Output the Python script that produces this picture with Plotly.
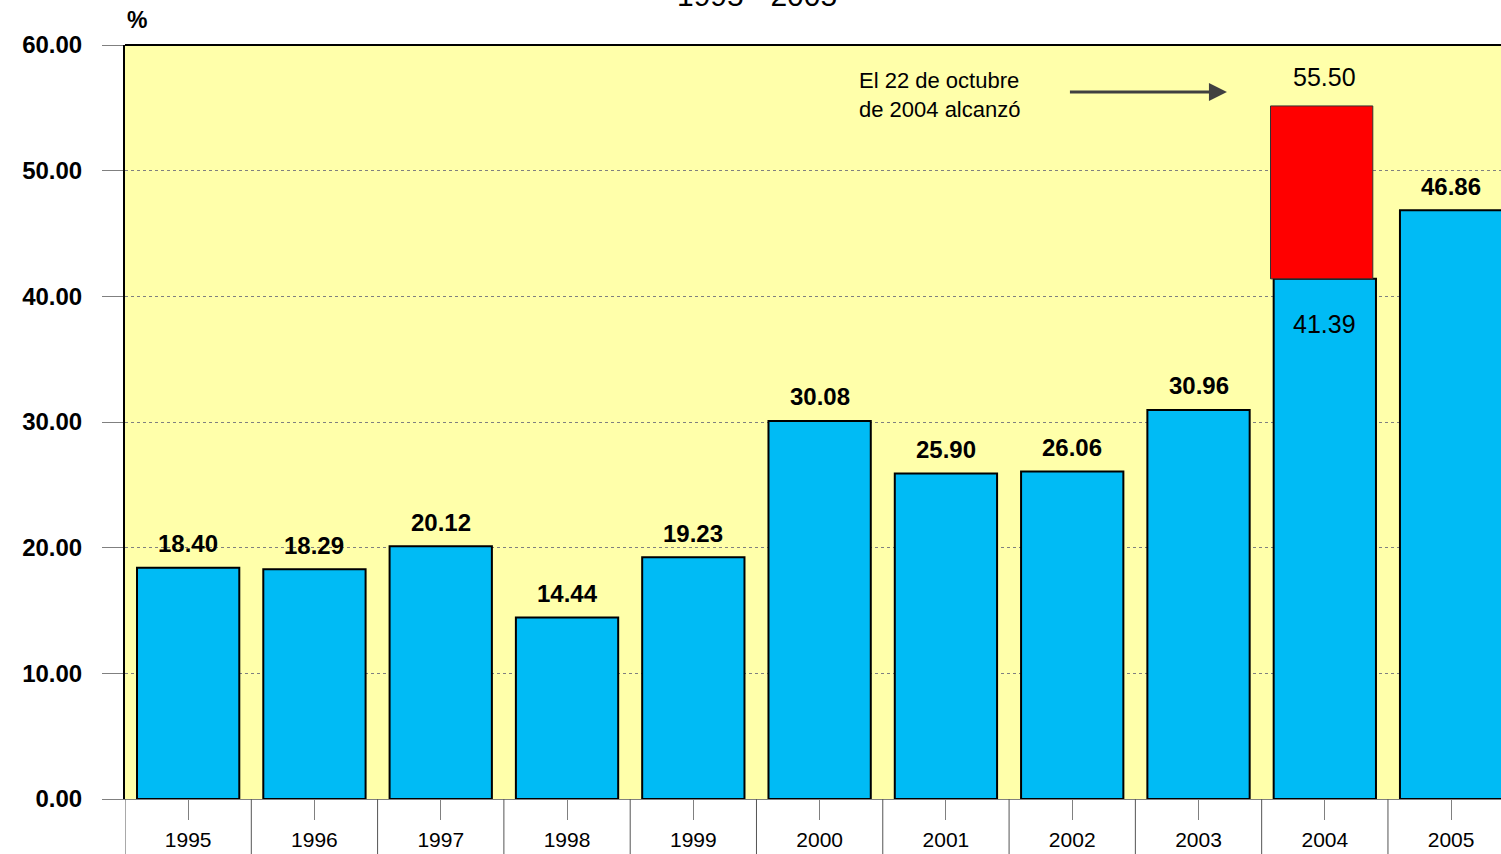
import plotly.graph_objects as go

years = ['1995', '1996', '1997', '1998', '1999', '2000', '2001', '2002', '2003', '2004', '2005']
values = [18.40, 18.29, 20.12, 14.44, 19.23, 30.08, 25.90, 26.06, 30.96, 41.39, 46.86]
peak_year = '2004'
peak_top = 55.15          # drawn top of the red segment
peak_label = '55.50'
y_ticks = [0, 10, 20, 30, 40, 50, 60]
note_text = 'El 22 de octubre<br>de 2004 alcanzó'
title_text = '1995 - 2005'

FONT = 'Liberation Sans, Arial, sans-serif'
BLUE = '#00BBF5'
YELLOW = '#FFFFAA'

fig = go.Figure()
fig.add_trace(go.Bar(
    x=years, y=values, width=0.81,
    marker=dict(color=BLUE, line=dict(color='black', width=2)),
    hoverinfo='x+y', showlegend=False,
))
pi = years.index(peak_year)
fig.add_trace(go.Bar(
    x=[peak_year], y=[peak_top - values[pi]], base=[values[pi]], width=0.81, offset=-0.43,
    marker=dict(color='#FF0000', line=dict(color='#333333', width=1)),
    showlegend=False,
))

ann = []
for i, (yr, v) in enumerate(zip(years, values)):
    if yr == peak_year:
        ann.append(dict(x=i, y=v, text=f'{v:.2f}', showarrow=False, yanchor='middle',
                        yshift=-45, font=dict(family=FONT, size=25, color='black')))
    else:
        ann.append(dict(x=i, y=v, text=f'{v:.2f}', showarrow=False, yanchor='middle',
                        yshift=24, font=dict(family=FONT, size=24, color='black', weight='bold')))
ann.append(dict(x=pi, y=peak_top, text=peak_label, showarrow=False, yanchor='middle',
                yshift=29, font=dict(family=FONT, size=25, color='black')))
# note and arrow
ann.append(dict(x=5.296, y=56.02, text=note_text, showarrow=False, xanchor='left',
                yanchor='middle', align='left', font=dict(family=FONT, size=22, color='black')))
ann.append(dict(x=8.225, y=56.26, ax=6.97, ay=56.26, axref='x', ayref='y', text='',
                showarrow=True, arrowhead=2, arrowsize=1.2, arrowwidth=3, arrowcolor='#404040'))
# % label and (cropped) title
ann.append(dict(xref='paper', yref='paper', x=0.0087, y=1.033, text='%', showarrow=False,
                xanchor='center', yanchor='middle',
                font=dict(family=FONT, size=23, color='black', weight='bold')))
ann.append(dict(xref='paper', yref='paper', x=0.459, y=1.066, text=title_text, showarrow=False,
                xanchor='center', yanchor='middle', font=dict(family=FONT, size=30, color='black')))

shapes = []
for i in range(len(years) + 1):
    shapes.append(dict(type='line', xref='x', yref='paper', x0=i - 0.5, x1=i - 0.5,
                       y0=0, y1=-0.12, line=dict(color='#555555', width=1), layer='above'))
shapes.append(dict(type='line', xref='paper', yref='paper', x0=0, x1=1, y0=1, y1=1,
                   line=dict(color='black', width=2), layer='above'))

fig.update_layout(
    width=1501, height=854,
    margin=dict(l=125, r=0, t=45, b=55),
    paper_bgcolor='white', plot_bgcolor=YELLOW,
    barmode='overlay', bargap=0.19,
    annotations=ann, shapes=shapes,
    font=dict(family=FONT, color='black'),
)
fig.update_xaxes(
    type='category', range=[-0.5, 10.395],
    showline=True, linecolor='#808080', linewidth=1,
    ticks='outside', ticklen=20, tickcolor='#808080', tickwidth=1,
    tickfont=dict(family=FONT, size=21, color='black'),
    ticklabelstandoff=2, showgrid=False,
)
fig.update_yaxes(
    range=[0, 60], tickvals=y_ticks, tickformat='.2f',
    showline=True, linecolor='black', linewidth=2,
    ticks='outside', ticklen=21, tickcolor='#808080', tickwidth=1,
    tickfont=dict(family=FONT, size=24, color='black', weight='bold'),
    ticklabelstandoff=15,
    showgrid=True, gridcolor='#808080', gridwidth=1, griddash='dot', zeroline=False,
)

fig.write_html('out.html', config={'displayModeBar': False},
               post_script="document.body.style.margin='0';document.body.style.overflow='hidden';")
